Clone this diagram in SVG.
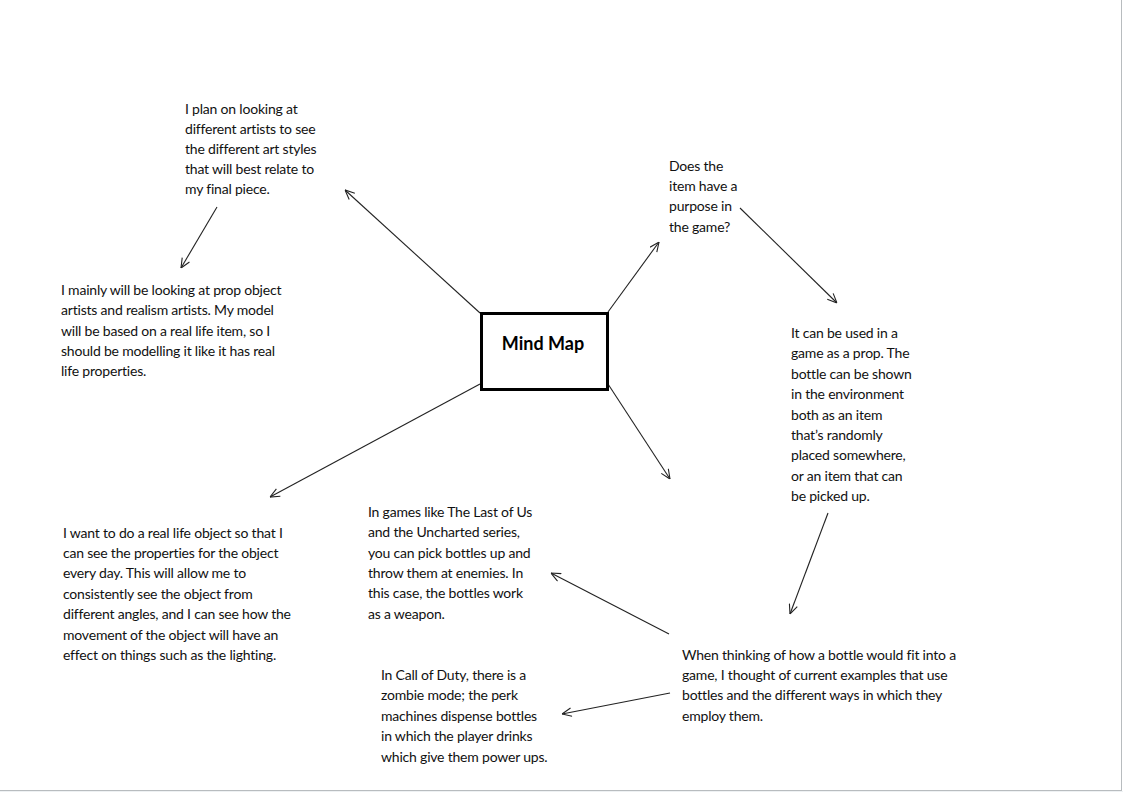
<svg xmlns="http://www.w3.org/2000/svg" width="1123" height="792" viewBox="0 0 1123 792">
<style>
.t{font-family:Lato,"Open Sans","Liberation Sans",sans-serif;font-size:14px;letter-spacing:-0.2px;fill:#111}
.title{font-family:Lato,"Open Sans","Liberation Sans",sans-serif;font-size:18px;font-weight:bold;fill:#000}
.c{stroke:#222;stroke-width:1.1;fill:none}
</style>
<defs>
<marker id="ah" viewBox="0 0 10 10" refX="10" refY="5" markerWidth="10" markerHeight="10" markerUnits="userSpaceOnUse" orient="auto">
<path d="M0.5,0.8 L10,5 L0.5,9.2" fill="none" stroke="#222" stroke-width="1.1"/>
</marker>
</defs>
<rect width="1123" height="792" fill="#fff"/>
<rect x="0" y="791" width="1123" height="1" fill="#eef1f3"/>
<line x1="1121.5" y1="0" x2="1121.5" y2="790.5" stroke="#b8bcbf" stroke-width="1"/>
<line x1="0" y1="790.5" x2="1122" y2="790.5" stroke="#b8bcbf" stroke-width="1"/>

<g id="connectors">
<line class="c" x1="480" y1="313" x2="345" y2="190" marker-end="url(#ah)"/>
<line class="c" x1="217" y1="207" x2="181" y2="268" marker-end="url(#ah)"/>
<line class="c" x1="480" y1="384" x2="270" y2="497" marker-end="url(#ah)"/>
<line class="c" x1="608" y1="312" x2="659" y2="242" marker-end="url(#ah)"/>
<line class="c" x1="740" y1="208" x2="837" y2="303" marker-end="url(#ah)"/>
<line class="c" x1="608" y1="384" x2="670" y2="479" marker-end="url(#ah)"/>
<line class="c" x1="828" y1="513" x2="790" y2="614" marker-end="url(#ah)"/>
<line class="c" x1="669" y1="634" x2="551" y2="573" marker-end="url(#ah)"/>
<line class="c" x1="670" y1="693" x2="562" y2="714" marker-end="url(#ah)"/>
</g>

<g id="center">
<rect x="481.5" y="313.5" width="126" height="76" fill="#fff" stroke="#000" stroke-width="3"/>
<text class="title" x="543" y="349.5" text-anchor="middle">Mind Map</text>
</g>

<g id="artists">
<text class="t" x="185" y="113.5">I plan on looking at</text>
<text class="t" x="185" y="133.7">different artists to see</text>
<text class="t" x="185" y="153.9">the different art styles</text>
<text class="t" x="185" y="174.1">that will best relate to</text>
<text class="t" x="185" y="194.3">my final piece.</text>
</g>

<g id="prop-artists">
<text class="t" x="61" y="295">I mainly will be looking at prop object</text>
<text class="t" x="61" y="315.3">artists and realism artists. My model</text>
<text class="t" x="61" y="335.6">will be based on a real life item, so I</text>
<text class="t" x="61" y="355.9">should be modelling it like it has real</text>
<text class="t" x="61" y="376.2">life properties.</text>
</g>

<g id="real-object">
<text class="t" x="63" y="537.7">I want to do a real life object so that I</text>
<text class="t" x="63" y="558">can see the properties for the object</text>
<text class="t" x="63" y="578.4">every day. This will allow me to</text>
<text class="t" x="63" y="598.8">consistently see the object from</text>
<text class="t" x="63" y="619.2">different angles, and I can see how the</text>
<text class="t" x="63" y="639.6">movement of the object will have an</text>
<text class="t" x="63" y="660">effect on things such as the lighting.</text>
</g>

<g id="purpose">
<text class="t" x="669" y="170.5">Does the</text>
<text class="t" x="669" y="190.9">item have a</text>
<text class="t" x="669" y="211.3">purpose in</text>
<text class="t" x="669" y="231.7">the game?</text>
</g>

<g id="prop-use">
<text class="t" x="791" y="338">It can be used in a</text>
<text class="t" x="791" y="358.4">game as a prop. The</text>
<text class="t" x="791" y="378.8">bottle can be shown</text>
<text class="t" x="791" y="399.2">in the environment</text>
<text class="t" x="791" y="419.6">both as an item</text>
<text class="t" x="791" y="440">that’s randomly</text>
<text class="t" x="791" y="460.4">placed somewhere,</text>
<text class="t" x="791" y="480.8">or an item that can</text>
<text class="t" x="791" y="501.2">be picked up.</text>
</g>

<g id="examples">
<text class="t" x="682" y="659.5">When thinking of how a bottle would fit into a</text>
<text class="t" x="682" y="679.9">game, I thought of current examples that use</text>
<text class="t" x="682" y="700.3">bottles and the different ways in which they</text>
<text class="t" x="682" y="720.7">employ them.</text>
</g>

<g id="last-of-us">
<text class="t" x="368" y="517">In games like The Last of Us</text>
<text class="t" x="368" y="537.3">and the Uncharted series,</text>
<text class="t" x="368" y="557.6">you can pick bottles up and</text>
<text class="t" x="368" y="577.9">throw them at enemies. In</text>
<text class="t" x="368" y="598.2">this case, the bottles work</text>
<text class="t" x="368" y="618.5">as a weapon.</text>
</g>

<g id="call-of-duty">
<text class="t" x="381" y="680">In Call of Duty, there is a</text>
<text class="t" x="381" y="700.4">zombie mode; the perk</text>
<text class="t" x="381" y="720.8">machines dispense bottles</text>
<text class="t" x="381" y="741.2">in which the player drinks</text>
<text class="t" x="381" y="761.6">which give them power ups.</text>
</g>
</svg>
